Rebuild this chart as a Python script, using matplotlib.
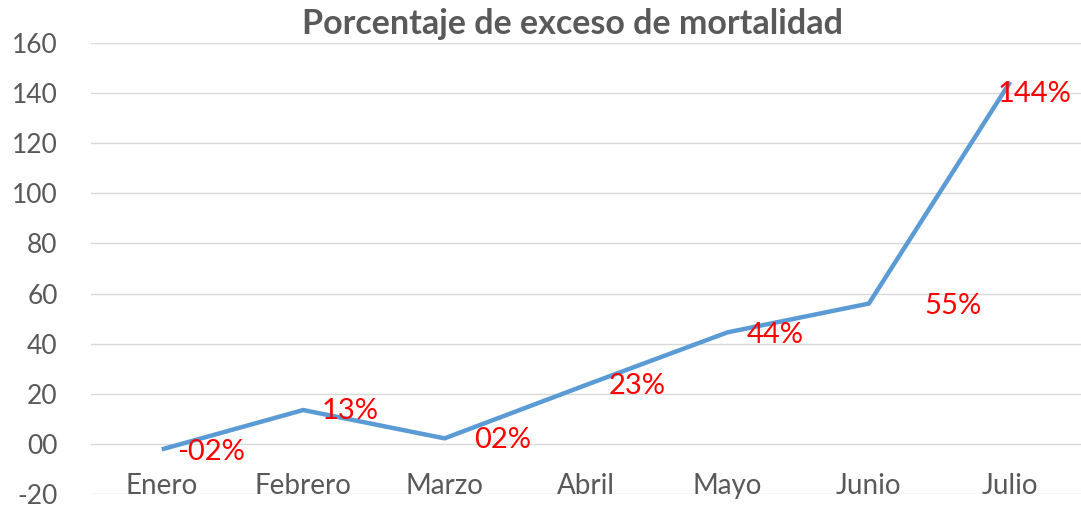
import matplotlib.pyplot as plt
from matplotlib.transforms import blended_transform_factory

# data
meses = ['Enero', 'Febrero', 'Marzo', 'Abril', 'Mayo', 'Junio', 'Julio']
exceso = [-2.2, 13.5, 2.2, 23.5, 44.5, 56.0, 144.5]
etiquetas = ['-02%', '13%', '02%', '23%', '44%', '55%', '144%']
y_ticks = [-20, 0, 20, 40, 60, 80, 100, 120, 140, 160]

# label offsets in points (dx, dy), like the manual placement in the original
offsets = [(11, -2), (13, -1), (21, -1), (16, -1), (14, -2), (40, -2), (-9, -9)]

plt.rcParams['font.family'] = ['Lato', 'DejaVu Sans']
gris = '#595959'

fig = plt.figure(figsize=(10.81, 5.08), dpi=100)
ax = fig.add_axes([0.0842, 0.0276, 0.9158, 0.8878])

x = list(range(len(meses)))
ax.plot(x, exceso, color='#5B9BD5', linewidth=3.2, solid_capstyle='butt', zorder=3)

for i in x:
    dx, dy = offsets[i]
    ax.annotate(etiquetas[i], (i, exceso[i]), xytext=(dx, dy), textcoords='offset points',
                ha='left', va='center', color='#FF0000', fontsize=21, zorder=4)

ax.set_xlim(-0.5, len(meses) - 0.5)
ax.set_ylim(-20, 160)
ax.set_yticks(y_ticks)
ax.set_yticklabels([f'{v:02d}' for v in y_ticks])
ax.tick_params(axis='y', length=0, pad=24, labelsize=19, labelcolor=gris)
ax.set_xticks([])

# category labels sit just above the bottom gridline
trans = blended_transform_factory(ax.transData, ax.transAxes)
for i, m in enumerate(meses):
    ax.text(i, 0.018, m, transform=trans, ha='center', va='center',
            fontsize=20, color=gris)

ax.grid(axis='y', color='#D9D9D9', linewidth=1.0)
ax.set_axisbelow(True)
for s in ax.spines.values():
    s.set_visible(False)

fig.text(0.53, 0.953, 'Porcentaje de exceso de mortalidad', ha='center', va='center',
         fontsize=24.5, fontweight='bold', color=gris)

fig.savefig('out.png', dpi=100)
